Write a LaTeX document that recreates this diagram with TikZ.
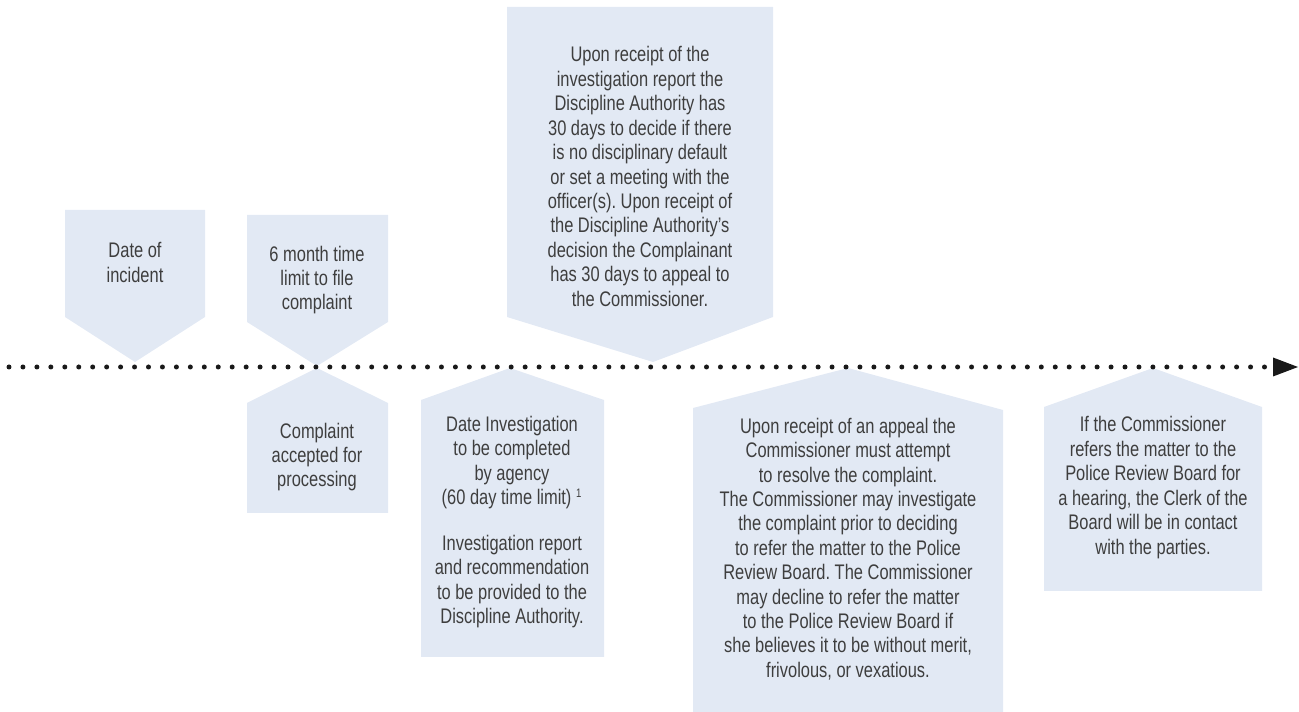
\documentclass[tikz,border=0pt]{standalone}
\usepackage{fontspec}
\setmainfont{Liberation Sans}[FakeStretch=0.78]
\frenchspacing
\definecolor{tagfill}{HTML}{E2E9F4}
\definecolor{tagtext}{HTML}{3E3E3E}
\begin{document}
\begin{tikzpicture}[
    x=0.02cm, y=-0.02cm,
    every node/.style={align=center, text=tagtext, inner sep=0pt,
        font=\fontsize{12}{13.9}\selectfont},
    tag/.style={fill=tagfill},
    dotmark/.style={fill=black!90},
    ]
\useasboundingbox (0,0) rectangle (1299,712);
% tags above the time line
\path[tag] (65,210) -- (205,210) -- (205,317) -- (135,362) -- (65,317) -- cycle;
\path[tag] (247,215) -- (388,215) -- (388,322) -- (317,366) -- (247,322) -- cycle;
\path[tag] (507,7) -- (773,7) -- (773,317) -- (653,362) -- (507,317) -- cycle;
% tags below the time line
\path[tag] (317,368) -- (388,403) -- (388,513) -- (247,513) -- (247,403) -- cycle;
\path[tag] (510,368) -- (604,400) -- (604,657) -- (421,657) -- (421,400) -- cycle;
\path[tag] (848,368) -- (1003,410) -- (1003,712) -- (693,712) -- (693,408) -- cycle;
\path[tag] (1153,368) -- (1262,407) -- (1262,591) -- (1044,591) -- (1044,407) -- cycle;
% time line
\foreach \i in {0,...,90}
    \fill[dotmark] ({9+13.95*\i},367) circle[radius=0.05cm];
\coordinate (lineend) at (1298,367);
\fill[dotmark] (1273,357.5) -- (lineend) -- (1273,376.5) -- cycle;
% texts
\node (incident) at (135,262.5) {Date of\\incident};
\node (limit) at (317,280) {6 month time\\limit to file\\complaint};
\node (accepted) at (317,457) {Complaint\\accepted for\\processing};
\node (decide) at (640,176.5) {Upon receipt of the\\investigation report the\\Discipline Authority has\\30 days to decide if there\\is no disciplinary default\\or set a meeting with the\\officer(s). Upon receipt of\\the Discipline Authority’s\\decision the Complainant\\has 30 days to appeal to\\the Commissioner.};
\node (investigation) at (512,522) {Date Investigation\\to be completed\\by agency\\(60 day time limit) \textsuperscript{\scriptsize 1}\\[12pt]Investigation report\\and recommendation\\to be provided to the\\Discipline Authority.};
\node (appeal) at (848,549) {Upon receipt of an appeal the\\Commissioner must attempt\\to resolve the complaint.\\The Commissioner may investigate\\the complaint prior to deciding\\to refer the matter to the Police\\Review Board. The Commissioner\\may decline to refer the matter\\to the Police Review Board if\\she believes it to be without merit,\\frivolous, or vexatious.};
\node (hearing) at (1153,487.5) {If the Commissioner\\refers the matter to the\\Police Review Board for\\a hearing, the Clerk of the\\Board will be in contact\\with the parties.};
\end{tikzpicture}
\end{document}
